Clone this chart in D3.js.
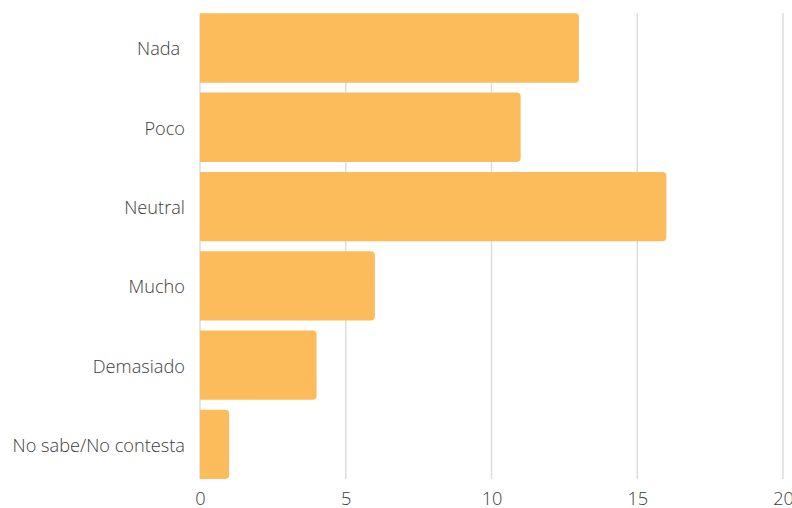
<!DOCTYPE html>
<html>
<head>
<meta charset="utf-8">
<script src="https://cdn.jsdelivr.net/npm/d3@7"></script>
<style>
  html, body { margin: 0; padding: 0; background: #fff; }
  svg text { font-family: "Open Sans", sans-serif; font-weight: 300; fill: #3c3c3c; white-space: pre; }
</style>
</head>
<body>
<svg id="chart" width="792" height="508"></svg>
<script>
// Responses per answer option
const categories = ["Nada ", "Poco", "Neutral", "Mucho", "Demasiado", "No sabe/No contesta"];
const counts = [13, 11, 16, 6, 4, 1];
const xTicks = [0, 5, 10, 15, 20];

const svg = d3.select("#chart");
const barColor = "#fdbc5b";
const gridColor = "#dddddd";
const fontSize = 18.2;

const x = d3.scaleLinear().domain([0, 20]).range([200, 783]);
const y = d3.scaleBand()
  .domain(categories)
  .range([8.4, 484])
  .paddingInner(0.125)
  .paddingOuter(0.0625);

const gridTop = y(categories[0]);
const gridBottom = y(categories[categories.length - 1]) + y.bandwidth();

// Vertical gridlines
svg.append("g")
  .selectAll("line")
  .data(xTicks)
  .join("line")
  .attr("x1", d => x(d)).attr("x2", d => x(d))
  .attr("y1", gridTop).attr("y2", gridBottom)
  .attr("stroke", gridColor)
  .attr("stroke-width", 1.5);

// Bars: square on the left, rounded on the right
const r = 4;
function barPath(d, i) {
  const x0 = x(0), x1 = x(d), y0 = y(categories[i]), h = y.bandwidth();
  const rr = Math.min(r, (x1 - x0) / 2);
  return `M${x0},${y0}H${x1 - rr}Q${x1},${y0} ${x1},${y0 + rr}` +
         `V${y0 + h - rr}Q${x1},${y0 + h} ${x1 - rr},${y0 + h}H${x0}Z`;
}
svg.append("g")
  .selectAll("path")
  .data(counts)
  .join("path")
  .attr("d", barPath)
  .attr("fill", barColor);

// Category labels
const yAxis = svg.append("g")
  .attr("transform", `translate(${x(0)},0)`)
  .call(d3.axisLeft(y).tickSize(0).tickPadding(15));
yAxis.select(".domain").remove();
yAxis.selectAll("text")
  .attr("font-size", fontSize)
  .attr("dy", "0.38em")
  .attr("y", 0.5)
  .style("font-family", "'Open Sans', sans-serif");

// Value axis labels
const xAxis = svg.append("g")
  .attr("transform", `translate(0,${gridBottom})`)
  .call(d3.axisBottom(x).tickValues(xTicks).tickSize(0).tickPadding(13));
xAxis.select(".domain").remove();
xAxis.selectAll("text")
  .attr("font-size", fontSize)
  .style("font-family", "'Open Sans', sans-serif");
</script>
</body>
</html>
